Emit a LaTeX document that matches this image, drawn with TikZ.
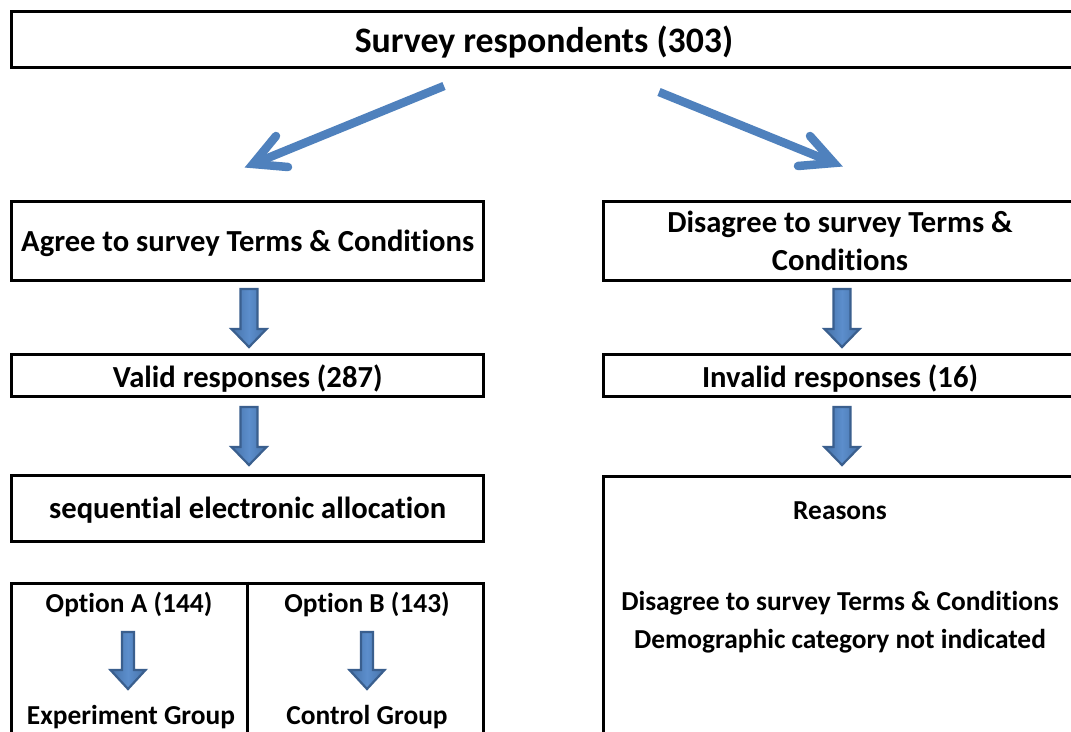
\documentclass[tikz,border=0pt]{standalone}
\usepackage{fontspec}
\setmainfont{Carlito}[Ligatures=NoCommon]
\usetikzlibrary{calc}
\definecolor{arrblue}{RGB}{79,129,189}
\definecolor{arrdark}{RGB}{58,95,142}
\definecolor{arrmid}{RGB}{70,114,168}
\definecolor{arrlight}{RGB}{92,142,204}
\newcommand\blkarrow[7]{% name, x, ytop, yhead, ytip, halfshaft, halfhead
  \coordinate (#1) at (#2,#3);
  \path[blockarrow] (#2-#6,#3) -- (#2+#6,#3) -- (#2+#6,#4) -- (#2+#7,#4)
     -- (#2,#5) -- (#2-#7,#4) -- (#2-#6,#4) -- cycle;}
\tikzset{
  box/.style={draw, line width=3pt, inner sep=0pt, text depth=0pt, font=\bfseries\fontsize{30.6}{38}\selectfont, align=center},
  lbl/.style={inner sep=0pt, font=\bfseries\fontsize{27.4}{34}\selectfont, align=center},
  blockarrow/.style={draw=arrdark, line width=2.2pt, line join=miter,
     left color=arrmid, right color=arrmid, middle color=arrlight},
  diag/.style={draw=arrblue, line width=8.5pt},
  barb/.style={draw=arrblue, line width=8.5pt, line cap=round, line join=miter}
}
\begin{document}
\begin{tikzpicture}[x=1pt,y=-1pt]
\clip (0,0) rectangle (1071,731);
\fill[white] (0,0) rectangle (1071,731);
% top box
\node[box, minimum width=1065pt, minimum height=56pt, font=\bfseries\fontsize{35.8}{42}\selectfont] (top) at (544,39) {Survey respondents (303)};
% left column
\node[box, minimum width=472pt, minimum height=79.5pt] (agree) at (247.7,241.2) {Agree to survey Terms \& Conditions};
\node[box, minimum width=472pt, minimum height=41.7pt] (valid) at (247.7,375.8) {Valid responses (287)};
\node[box, minimum width=472pt, minimum height=66pt] (seq) at (247.7,508) {sequential electronic allocation};
\node[box, minimum width=472pt, minimum height=300pt, anchor=north] (opt) at (247.7,581.5) {};
\draw[line width=3pt] (247.3,581.5) coordinate (divtop) -- (247.3,900) coordinate (divbot);
\node[lbl] (optA) at (129,604) {Option A (144)};
\node[lbl] (optB) at (367,604) {Option B (143)};
\node[lbl] (expg) at (131,717) {Experiment Group};
\node[lbl] (ctrl) at (367,717) {Control Group};
% right column
\node[box, minimum width=473pt, minimum height=79.5pt] (disagree) at (840,241.2) {Disagree to survey Terms \&\\Conditions};
\node[box, minimum width=473pt, minimum height=41.7pt] (invalid) at (840,375.8) {Invalid responses (16)};
\node[box, minimum width=473pt, minimum height=400pt, anchor=north] (reas) at (840,475) {};
\node[lbl] (reasT) at (840,511) {Reasons};
\node[lbl] (r1) at (840,603) {Disagree to survey Terms \& Conditions};
\node[lbl] (r2) at (840,641) {Demographic category not indicated};
% block arrows
\blkarrow{a1}{249}{289}{329}{347}{8.5}{17.5}
\blkarrow{a2}{249}{407}{447}{465}{8.5}{17.5}
\blkarrow{a3}{842}{289}{329}{347}{8.5}{17.5}
\blkarrow{a4}{842}{407}{447}{465}{8.5}{17.5}
\blkarrow{a5}{128}{632}{670}{689}{6}{17.5}
\blkarrow{a6}{367}{632}{670}{689}{6}{17.5}
% diagonal arrows
\coordinate (ls) at (444,86);
\coordinate (lt) at (253,164);
\coordinate (rs) at (659,92);
\coordinate (rt) at (834,163);
\draw[diag] (ls) -- ($(lt)!6pt!(ls)$);
\draw[barb] (276,136) -- (lt) -- (288,167);
\draw[diag] (rs) -- ($(rt)!6pt!(rs)$);
\draw[barb] (798,166) -- (rt) -- (810,136);
\end{tikzpicture}
\end{document}
